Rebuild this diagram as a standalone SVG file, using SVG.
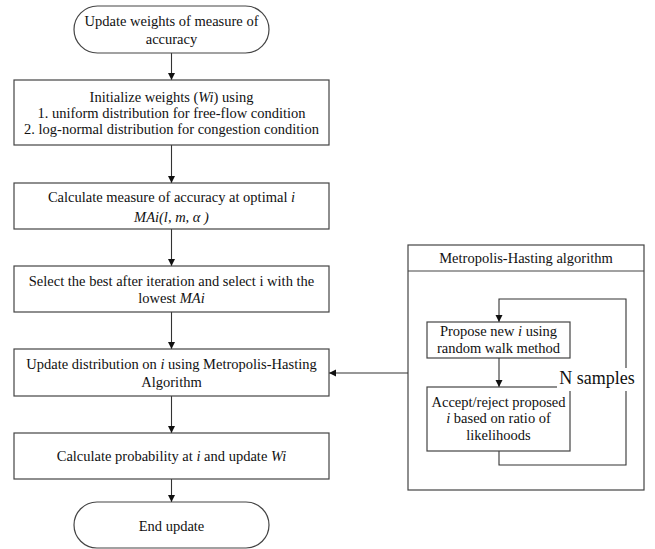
<svg xmlns="http://www.w3.org/2000/svg" width="655" height="549" viewBox="0 0 655 549">
<style>
.n{fill:#fff;stroke:#444;stroke-width:1.2}
.o{fill:none;stroke:#444;stroke-width:1.2}
.c{fill:none;stroke:#333;stroke-width:1.1}
text{font-family:'Liberation Serif','DejaVu Serif',serif;font-size:14.5px;fill:#111;text-anchor:middle}
.i{font-style:italic}
.big{font-size:18px}
</style>
<defs>
<marker id="ah" markerWidth="8" markerHeight="8" refX="7" refY="4" orient="auto" markerUnits="userSpaceOnUse">
<path d="M0,0.5 L7,4 L0,7.5 Z" fill="#111"/>
</marker>
</defs>
<rect width="655" height="549" fill="#fff"/>
<g id="mh">
<rect class="o" x="408" y="245" width="236" height="245"/>
<line x1="408" y1="271" x2="644" y2="271" stroke="#444" stroke-width="1.2"/>
<text x="526" y="263">Metropolis-Hasting algorithm</text>
</g>
<g id="connectors">
<line class="c" x1="171.5" y1="53" x2="171.5" y2="80" marker-end="url(#ah)"/>
<line class="c" x1="171.5" y1="145" x2="171.5" y2="183" marker-end="url(#ah)"/>
<line class="c" x1="171.5" y1="229" x2="171.5" y2="266" marker-end="url(#ah)"/>
<line class="c" x1="171.5" y1="312" x2="171.5" y2="349" marker-end="url(#ah)"/>
<line class="c" x1="171.5" y1="396" x2="171.5" y2="433" marker-end="url(#ah)"/>
<line class="c" x1="171.5" y1="479" x2="171.5" y2="502" marker-end="url(#ah)"/>
<line class="c" x1="408" y1="373" x2="329" y2="373" marker-end="url(#ah)"/>
<line class="c" x1="499" y1="358" x2="499" y2="387" marker-end="url(#ah)"/>
<polyline class="c" points="499,451 499,465 626,465 626,299 499,299 499,322" marker-end="url(#ah)"/>
</g>
<g id="start">
<rect class="n" x="74" y="6" width="195" height="47" rx="23.5"/>
<text x="171.5" y="26">Update weights of measure of</text>
<text x="171.5" y="44">accuracy</text>
</g>
<g id="init">
<rect class="n" x="14" y="80" width="315" height="65"/>
<text x="171.5" y="102">Initialize weights (<tspan class="i">Wi</tspan>) using</text>
<text x="171.5" y="118">1. uniform distribution for free-flow condition</text>
<text x="171.5" y="134">2. log-normal distribution for congestion condition</text>
</g>
<g id="calc">
<rect class="n" x="14" y="183" width="315" height="46"/>
<text x="171.5" y="202">Calculate measure of accuracy at optimal <tspan class="i">i</tspan></text>
<text x="171.5" y="222" class="i">MAi(l, m,  α )</text>
</g>
<g id="select">
<rect class="n" x="14" y="266" width="315" height="46"/>
<text x="171.5" y="286">Select the best after iteration and select i with the</text>
<text x="171.5" y="303">lowest <tspan class="i">MAi</tspan></text>
</g>
<g id="update">
<rect class="n" x="14" y="349" width="315" height="47"/>
<text x="171.5" y="369">Update distribution on <tspan class="i">i</tspan> using Metropolis-Hasting</text>
<text x="171.5" y="387">Algorithm</text>
</g>
<g id="prob">
<rect class="n" x="14" y="433" width="315" height="46"/>
<text x="171.5" y="461">Calculate probability at <tspan class="i">i</tspan> and update <tspan class="i">Wi</tspan></text>
</g>
<g id="end">
<rect class="n" x="74" y="502" width="195" height="46" rx="23"/>
<text x="171.5" y="531">End update</text>
</g>
<g id="propose">
<rect class="n" x="427" y="322" width="143" height="36"/>
<text x="498.5" y="336">Propose new <tspan class="i">i</tspan> using</text>
<text x="498.5" y="353">random walk method</text>
</g>
<g id="accept">
<rect class="n" x="427" y="387" width="143" height="64"/>
<text x="498.5" y="407">Accept/reject proposed</text>
<text x="498.5" y="423"><tspan class="i">i</tspan> based on ratio of</text>
<text x="498.5" y="440">likelihoods</text>
</g>
<g id="nsamples">
<rect x="557" y="368" width="80" height="23" fill="#fff"/>
<text class="big" x="597" y="384">N samples</text>
</g>
</svg>
